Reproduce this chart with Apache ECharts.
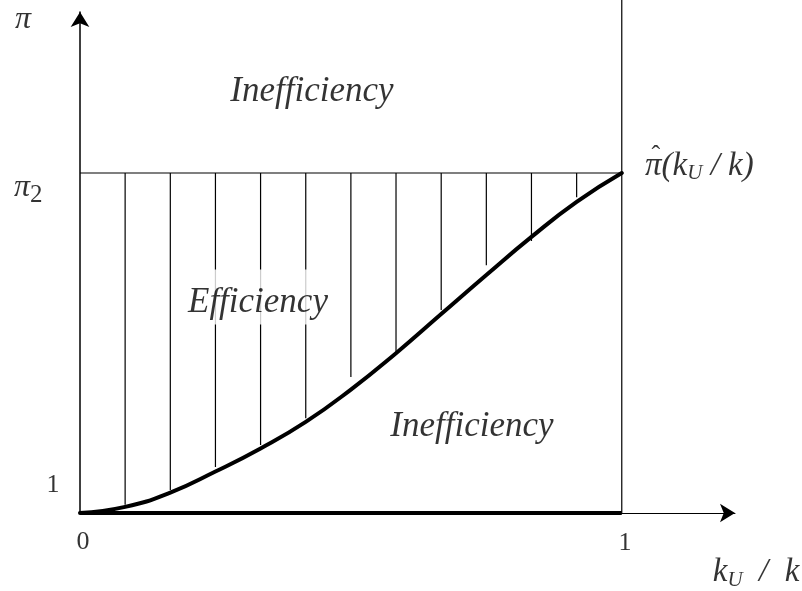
<!DOCTYPE html>
<html><head><meta charset="utf-8">
<script src="https://cdn.jsdelivr.net/npm/echarts@6/dist/echarts.min.js"></script>
<style>html,body{margin:0;padding:0;background:#fff}#c{width:802px;height:591px}</style>
</head><body><div id="c"></div>
<script>
// share k_U/k on x, pi on y (bottom = 1, pi_2 level = 2)
const curveX = [0, 0.0833, 0.1667, 0.25, 0.3333, 0.4167, 0.5, 0.5833, 0.6667, 0.75, 0.8333, 0.9167, 1];
const curveY = [1.0, 1.018, 1.060, 1.122, 1.190, 1.268, 1.363, 1.470, 1.585, 1.700, 1.812, 1.915, 2.0];
const hatchX = [0.0833, 0.1667, 0.25, 0.3333, 0.4167, 0.5, 0.5833, 0.6667, 0.75, 0.8333, 0.9167];
const hatchBottom = [1.024, 1.068, 1.135, 1.2, 1.279, 1.4, 1.474, 1.597, 1.729, 1.8, 1.929];
const piOne = 1;
const piTwo = 2;
const xStart = 0;
const xEnd = 1;
const regionNames = ['Inefficiency', 'Efficiency', 'Inefficiency'];
const tickTexts = ['0', '1', '1'];

const serif = 'Liberation Serif';
const ink = '#000';

const labelItems = [
  { value: [-0.105, 2.450], label: { formatter: '{i|π}', align: 'center' } },
  { value: [-0.122, 1.956], label: { formatter: '{i|π}{sub|2}', align: 'left' } },
  { value: [-0.050, 1.082], label: { formatter: '{n|' + tickTexts[1] + '}', align: 'center' } },
  { value: [0.0055, 0.915], label: { formatter: '{n|' + tickTexts[0] + '}', align: 'center' } },
  { value: [1.006, 0.912], label: { formatter: '{n|' + tickTexts[2] + '}', align: 'center' } },
  { value: [1.168, 0.826], label: { formatter: '{k|k}{ks|U}{k|  /  k}', align: 'left' } },
  { value: [1.043, 2.021], label: { formatter: '{k|π(k}{ks|U}{k| / k)}', align: 'left' } },
  { value: [1.063, 2.05], label: { formatter: '{h|ˆ}', align: 'center' } },
  { value: [0.428, 2.238], label: { formatter: '{w|' + regionNames[0] + '}', align: 'center' } },
  { value: [0.3285, 1.635], label: { formatter: '{wb|' + regionNames[1] + '}', align: 'center' } },
  { value: [0.7235, 1.253], label: { formatter: '{w|' + regionNames[2] + '}', align: 'center' } }
];

const rich = {
  i: { fontFamily: serif, fontStyle: 'italic', fontSize: 32, color: ink },
  sub: { fontFamily: serif, fontSize: 25, color: ink, padding: [14, 0, 0, 0] },
  n: { fontFamily: serif, fontSize: 26, color: ink },
  k: { fontFamily: serif, fontStyle: 'italic', fontSize: 33, color: ink },
  ks: { fontFamily: serif, fontStyle: 'italic', fontSize: 21, color: ink, padding: [16, 0, 0, 0] },
  h: { fontFamily: serif, fontSize: 26, color: ink },
  w: { fontFamily: serif, fontStyle: 'italic', fontSize: 35, color: ink },
  wb: { fontFamily: serif, fontStyle: 'italic', fontSize: 35, color: ink, backgroundColor: '#fff', padding: [16, 4, 4, 4] }
};

const chart = echarts.init(document.getElementById('c'), null, { renderer: 'canvas' });
chart.setOption({
  backgroundColor: '#fff',
  animation: false,
  grid: { left: 80, right: 67, top: 12, bottom: 78 },
  xAxis: {
    type: 'value', min: 0, max: 1.209,
    axisLine: { show: true, onZero: false, symbol: ['none', 'arrow'], symbolSize: [14, 15], lineStyle: { color: ink, width: 1 } },
    axisTick: { show: false }, axisLabel: { show: false }, splitLine: { show: false }
  },
  yAxis: {
    type: 'value', min: 1, max: 2.4735,
    axisLine: { show: true, onZero: false, symbol: ['none', 'arrow'], symbolSize: [14, 15], lineStyle: { color: ink, width: 1.5 } },
    axisTick: { show: false }, axisLabel: { show: false }, splitLine: { show: false }
  },
  series: [
    {
      type: 'custom', z: 2,
      data: hatchX.map((x, i) => [x, hatchBottom[i]]),
      renderItem: function (params, api) {
        const top = api.coord([api.value(0), piTwo]);
        const bot = api.coord([api.value(0), api.value(1)]);
        return { type: 'line', shape: { x1: top[0], y1: top[1], x2: bot[0], y2: bot[1] }, style: { stroke: ink, lineWidth: 1.2 } };
      }
    },
    {
      type: 'line', z: 3, symbol: 'none',
      data: [[xStart, piTwo], [xEnd, piTwo]],
      lineStyle: { color: ink, width: 1.2 }
    },
    {
      type: 'line', z: 3, symbol: 'none', clip: false,
      data: [[xEnd, piOne], [xEnd, 2.51]],
      lineStyle: { color: ink, width: 1.2 }
    },
    {
      type: 'line', z: 4, symbol: 'none',
      data: [[xStart, piOne], [xEnd, piOne]],
      lineStyle: { color: ink, width: 4 }
    },
    {
      type: 'line', z: 5, symbol: 'none', smooth: 0.5, clip: false,
      data: curveX.map((x, i) => [x, curveY[i]]),
      lineStyle: { color: ink, width: 4, cap: 'round' }
    },
    {
      type: 'scatter', z: 10, symbolSize: 0, clip: false, silent: true,
      data: labelItems,
      label: { show: true, position: 'inside', verticalAlign: 'middle', rich: rich }
    }
  ]
});
</script></body></html>
